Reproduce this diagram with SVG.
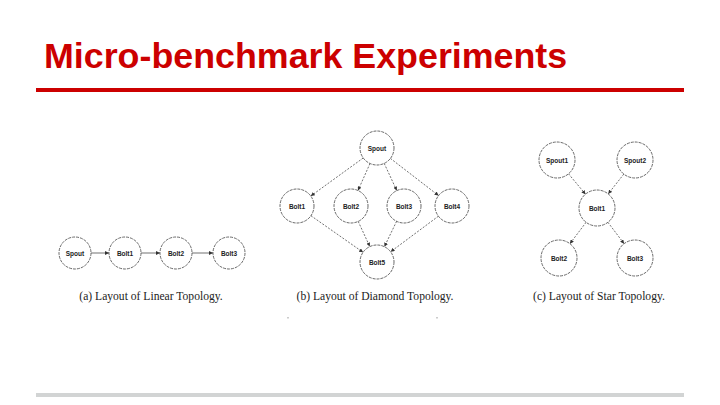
<svg xmlns="http://www.w3.org/2000/svg" width="720" height="405" viewBox="0 0 720 405">
<defs>
<marker id="ah" viewBox="0 0 10 10" refX="10" refY="5" markerWidth="4" markerHeight="4" markerUnits="userSpaceOnUse" orient="auto">
<path d="M0,0 L10,5 L0,10 z" fill="#333"/>
</marker>
</defs>
<style>
.title{font-family:"Liberation Sans",Arial,sans-serif;font-weight:bold;font-size:35.8px;fill:#cc0000}
.node circle{fill:#fff;stroke:#444;stroke-width:0.8;stroke-dasharray:3 1}
.node text{font-family:"Liberation Sans",Arial,sans-serif;font-weight:bold;font-size:6.5px;fill:#222;text-anchor:middle;dominant-baseline:central}
.cap{font-family:"Liberation Serif","Times New Roman",serif;font-size:11.6px;fill:#222;text-anchor:middle}
.edge{stroke:#333;stroke-width:0.7;fill:none;marker-end:url(#ah)}
.dash{stroke-dasharray:2 1.5}
</style>
<rect width="720" height="405" fill="#fff"/>
<text class="title" x="44" y="68">Micro-benchmark Experiments</text>
<rect x="36" y="88" width="648" height="4" fill="#cc0000"/>
<rect x="36" y="393" width="648" height="4" fill="#d2d4d4"/>

<g id="connectors">
<line class="edge" x1="91" y1="253" x2="109" y2="253"/>
<line class="edge" x1="141" y1="253" x2="160" y2="253"/>
<line class="edge" x1="192" y1="253" x2="213" y2="253"/>

<line class="edge dash" x1="363.2" y1="158" x2="310.8" y2="196"/>
<line class="edge dash" x1="370" y1="163.5" x2="358" y2="190.5"/>
<line class="edge dash" x1="384.2" y1="163.4" x2="396.8" y2="190.6"/>
<line class="edge dash" x1="390.4" y1="158.4" x2="438.6" y2="195.6"/>
<line class="edge dash" x1="310.9" y1="215.7" x2="363.1" y2="252.3"/>
<line class="edge dash" x1="358.2" y1="221.4" x2="369.8" y2="246.6"/>
<line class="edge dash" x1="396.6" y1="221.3" x2="384.4" y2="246.7"/>
<line class="edge dash" x1="438.4" y1="216.2" x2="390.6" y2="251.8"/>

<line class="edge dash" x1="568.5" y1="173.8" x2="585.5" y2="194.2"/>
<line class="edge dash" x1="623.8" y1="174.1" x2="608.2" y2="193.9"/>
<line class="edge dash" x1="586.1" y1="222.3" x2="569.9" y2="243.7"/>
<line class="edge dash" x1="607.9" y1="222.3" x2="624.1" y2="243.7"/>
</g>

<g id="a-spout" class="node"><circle cx="75" cy="253" r="16"/><text x="75" y="253">Spout</text></g>
<g id="a-bolt1" class="node"><circle cx="125" cy="253" r="16"/><text x="125" y="253">Bolt1</text></g>
<g id="a-bolt2" class="node"><circle cx="176" cy="253" r="16"/><text x="176" y="253">Bolt2</text></g>
<g id="a-bolt3" class="node"><circle cx="229" cy="253" r="16"/><text x="229" y="253">Bolt3</text></g>
<text class="cap" x="151" y="300">(a) Layout of Linear Topology.</text>

<g id="b-spout" class="node"><circle cx="377" cy="148" r="17"/><text x="377" y="148">Spout</text></g>
<g id="b-bolt1" class="node"><circle cx="297" cy="206" r="17"/><text x="297" y="206">Bolt1</text></g>
<g id="b-bolt2" class="node"><circle cx="351" cy="206" r="17"/><text x="351" y="206">Bolt2</text></g>
<g id="b-bolt3" class="node"><circle cx="404" cy="206" r="17"/><text x="404" y="206">Bolt3</text></g>
<g id="b-bolt4" class="node"><circle cx="452" cy="206" r="17"/><text x="452" y="206">Bolt4</text></g>
<g id="b-bolt5" class="node"><circle cx="377" cy="262" r="17"/><text x="377" y="262">Bolt5</text></g>
<text class="cap" x="375" y="300">(b) Layout of Diamond Topology.</text>
<rect x="287.5" y="317" width="1" height="1.5" fill="#999"/>
<rect x="436.5" y="317" width="1" height="1.5" fill="#999"/>

<g id="c-spout1" class="node"><circle cx="557" cy="160" r="18"/><text x="557" y="160">Spout1</text></g>
<g id="c-spout2" class="node"><circle cx="635" cy="160" r="18"/><text x="635" y="160">Spout2</text></g>
<g id="c-bolt1" class="node"><circle cx="597" cy="208" r="18"/><text x="597" y="208">Bolt1</text></g>
<g id="c-bolt2" class="node"><circle cx="559" cy="258" r="18"/><text x="559" y="258">Bolt2</text></g>
<g id="c-bolt3" class="node"><circle cx="635" cy="258" r="18"/><text x="635" y="258">Bolt3</text></g>
<text class="cap" x="599" y="300">(c) Layout of Star Topology.</text>
</svg>
